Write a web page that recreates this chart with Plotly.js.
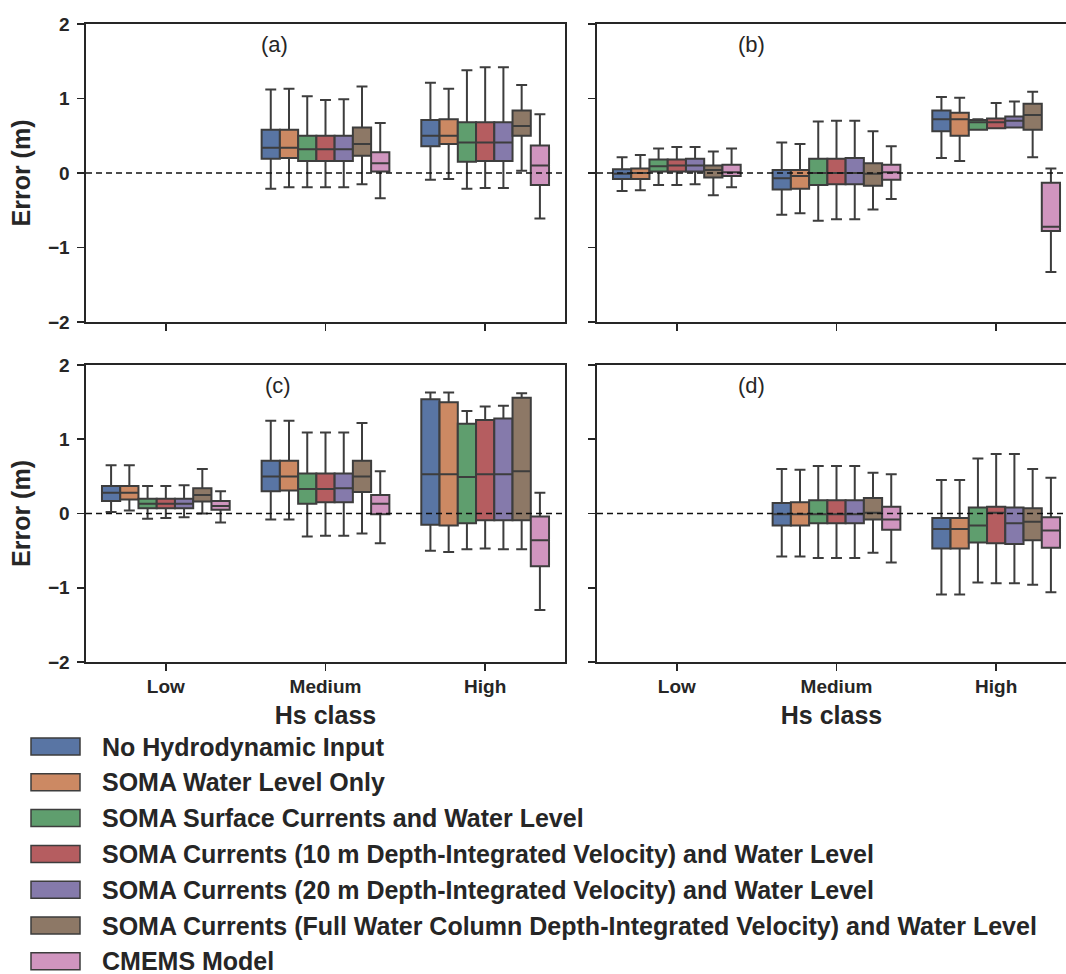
<!DOCTYPE html>
<html>
<head>
<meta charset="utf-8">
<script src="https://cdn.plot.ly/plotly-3.0.1.min.js"></script>
<style>
  html, body { margin: 0; padding: 0; background: #ffffff; overflow: hidden; }
  #chart { width: 1066px; height: 974px; }
</style>
</head>
<body>
<div id="chart"></div>
<script>
// ---------------- DATA ----------------
const categories = ['Low', 'Medium', 'High'];
const seriesNames = [
  'No Hydrodynamic Input',
  'SOMA Water Level Only',
  'SOMA Surface Currents and Water Level',
  'SOMA Currents (10 m Depth-Integrated Velocity) and Water Level',
  'SOMA Currents (20 m Depth-Integrated Velocity) and Water Level',
  'SOMA Currents (Full Water Column Depth-Integrated Velocity) and Water Level',
  'CMEMS Model'
];
const yTicks = [-2, -1, 0, 1, 2];
const panelLabels = ['(a)', '(b)', '(c)', '(d)'];

// Each row = one series; columns = Low, Medium, High (null = no data)
// Panel (a)
const aLower  = [[null,-0.21,-0.09],[null,-0.19,-0.08],[null,-0.19,-0.21],[null,-0.19,-0.20],[null,-0.19,-0.20],[null,-0.15,0.03],[null,-0.34,-0.61]];
const aQ1     = [[null,0.19,0.36],[null,0.20,0.39],[null,0.16,0.15],[null,0.16,0.16],[null,0.16,0.16],[null,0.23,0.50],[null,0.02,-0.16]];
const aMedian = [[null,0.34,0.50],[null,0.34,0.50],[null,0.32,0.41],[null,0.32,0.41],[null,0.32,0.41],[null,0.39,0.63],[null,0.13,0.10]];
const aQ3     = [[null,0.58,0.71],[null,0.58,0.72],[null,0.50,0.68],[null,0.50,0.68],[null,0.50,0.68],[null,0.61,0.84],[null,0.28,0.37]];
const aUpper  = [[null,1.12,1.21],[null,1.13,1.13],[null,1.03,1.38],[null,0.98,1.42],[null,0.99,1.42],[null,1.16,1.18],[null,0.67,0.79]];

// Panel (b)
const bLower  = [[-0.24,-0.56,0.20],[-0.23,-0.54,0.16],[-0.16,-0.64,0.58],[-0.16,-0.62,0.60],[-0.15,-0.62,0.61],[-0.30,-0.49,0.21],[-0.19,-0.35,-1.33]];
const bQ1     = [[-0.08,-0.22,0.56],[-0.08,-0.21,0.50],[0.02,-0.16,0.58],[0.02,-0.15,0.60],[0.02,-0.15,0.61],[-0.06,-0.17,0.58],[-0.04,-0.09,-0.78]];
const bMedian = [[-0.01,-0.07,0.72],[0.00,-0.04,0.72],[0.09,0.00,0.68],[0.10,0.00,0.68],[0.10,0.00,0.70],[0.04,-0.01,0.78],[0.01,0.01,-0.72]];
const bQ3     = [[0.05,0.04,0.84],[0.06,0.04,0.81],[0.18,0.19,0.71],[0.18,0.19,0.73],[0.19,0.20,0.76],[0.10,0.13,0.93],[0.11,0.11,-0.13]];
const bUpper  = [[0.21,0.41,1.02],[0.24,0.39,1.01],[0.33,0.69,0.72],[0.35,0.70,0.94],[0.35,0.70,0.96],[0.29,0.56,1.09],[0.33,0.36,0.06]];

// Panel (c)
const cLower  = [[0.02,-0.08,-0.50],[0.04,-0.08,-0.52],[-0.07,-0.31,-0.48],[-0.06,-0.30,-0.47],[-0.05,-0.30,-0.48],[0.00,-0.27,-0.48],[-0.12,-0.40,-1.30]];
const cQ1     = [[0.17,0.30,-0.15],[0.19,0.31,-0.16],[0.07,0.13,-0.13],[0.07,0.15,-0.09],[0.07,0.15,-0.09],[0.16,0.29,-0.09],[0.05,-0.01,-0.71]];
const cMedian = [[0.28,0.50,0.53],[0.28,0.50,0.53],[0.13,0.33,0.49],[0.13,0.33,0.53],[0.13,0.34,0.53],[0.25,0.50,0.57],[0.10,0.13,-0.36]];
const cQ3     = [[0.37,0.71,1.54],[0.37,0.71,1.50],[0.20,0.54,1.21],[0.20,0.54,1.26],[0.20,0.54,1.28],[0.34,0.71,1.56],[0.17,0.25,-0.04]];
const cUpper  = [[0.65,1.25,1.63],[0.65,1.25,1.63],[0.37,1.09,1.38],[0.37,1.09,1.44],[0.38,1.09,1.45],[0.60,1.22,1.62],[0.30,0.57,0.28]];

// Panel (d)
const dLower  = [[null,-0.58,-1.09],[null,-0.58,-1.09],[null,-0.60,-0.93],[null,-0.60,-0.94],[null,-0.60,-0.94],[null,-0.53,-0.96],[null,-0.66,-1.06]];
const dQ1     = [[null,-0.16,-0.47],[null,-0.16,-0.47],[null,-0.13,-0.39],[null,-0.13,-0.40],[null,-0.13,-0.41],[null,-0.08,-0.36],[null,-0.22,-0.46]];
const dMedian = [[null,-0.01,-0.21],[null,-0.01,-0.21],[null,-0.01,-0.16],[null,-0.01,0.01],[null,-0.01,-0.13],[null,0.01,-0.11],[null,-0.08,-0.23]];
const dQ3     = [[null,0.14,-0.06],[null,0.15,-0.06],[null,0.18,0.08],[null,0.18,0.09],[null,0.18,0.08],[null,0.21,0.07],[null,0.09,-0.05]];
const dUpper  = [[null,0.60,0.45],[null,0.59,0.45],[null,0.64,0.74],[null,0.64,0.80],[null,0.64,0.80],[null,0.55,0.60],[null,0.53,0.48]];

// ---------------- STYLE ----------------
const seriesColors = ['#5975a4', '#cc8963', '#5f9e6e', '#b55d60', '#857aab', '#8d7866', '#d095bf'];
const FONT = 'Liberation Sans, Arial, Helvetica, sans-serif';
const INK = '#262626';
const EDGE = '#3d3d3d';

const W = 1066, H = 974;
const M = { l: 86, r: 0, t: 24, b: 312 };
const PW = W - M.l - M.r, PH = H - M.t - M.b;
const px2x = p => (p - M.l) / PW;          // page pixel -> paper x
const py2y = p => (H - M.b - p) / PH;      // page pixel -> paper y

const panels = [
  { lo: aLower, q1: aQ1, med: aMedian, q3: aQ3, hi: aUpper, xa: 'x',  ya: 'y'  },
  { lo: bLower, q1: bQ1, med: bMedian, q3: bQ3, hi: bUpper, xa: 'x2', ya: 'y2' },
  { lo: cLower, q1: cQ1, med: cMedian, q3: cQ3, hi: cUpper, xa: 'x3', ya: 'y3' },
  { lo: dLower, q1: dQ1, med: dMedian, q3: dQ3, hi: dUpper, xa: 'x4', ya: 'y4' }
];

const traces = [];
panels.forEach(p => {
  for (let s = 0; s < seriesNames.length; s++) {
    const x = [], lo = [], q1 = [], med = [], q3 = [], hi = [];
    for (let c = 0; c < categories.length; c++) {
      if (p.med[s][c] === null) continue;
      x.push(categories[c]);
      lo.push(p.lo[s][c]); q1.push(p.q1[s][c]); med.push(p.med[s][c]);
      q3.push(p.q3[s][c]); hi.push(p.hi[s][c]);
    }
    traces.push({
      type: 'box', name: seriesNames[s], x: x,
      q1: q1, median: med, q3: q3, lowerfence: lo, upperfence: hi,
      xaxis: p.xa, yaxis: p.ya,
      offsetgroup: 'g' + s,
      fillcolor: seriesColors[s],
      line: { color: EDGE, width: 2 },
      whiskerwidth: 0.6, boxpoints: false, showlegend: false,
      hoverinfo: 'skip'
    });
  }
});

const leftDom = [0, 479 / PW];
const rightDom = [511 / PW, 1];
const topDom = [py2y(322), 1];
const botDom = [0, py2y(365)];

function xAxis(dom, anchor, range, labels) {
  return {
    domain: dom, anchor: anchor, type: 'category',
    categoryorder: 'array', categoryarray: categories,
    range: range, showgrid: false, zeroline: false,
    showline: true, mirror: true, linecolor: INK, linewidth: 1.6,
    ticks: 'outside', ticklen: 7, tickwidth: 1.6, tickcolor: INK,
    showticklabels: labels,
    tickfont: { family: FONT, size: 19, color: INK, weight: 'bold' },
    title: labels ? { text: 'Hs class', font: { family: FONT, size: 25, color: INK, weight: 'bold' }, standoff: 10 } : { text: '' }
  };
}
function yAxis(dom, anchor, labels) {
  return {
    domain: dom, anchor: anchor, range: [-2, 2],
    tickmode: 'array', tickvals: yTicks,
    showgrid: false, zeroline: false,
    showline: true, mirror: labels, linecolor: INK, linewidth: 1.6,
    ticks: 'outside', ticklen: 7, tickwidth: 1.6, tickcolor: INK,
    ticklabelstandoff: 4,
    showticklabels: labels,
    tickfont: { family: FONT, size: 19, color: INK, weight: 'bold' },
    title: labels ? { text: 'Error (m)', font: { family: FONT, size: 25, color: INK, weight: 'bold' }, standoff: 10 } : { text: '' }
  };
}

const rightEnd = -0.5 + 469 / (479 / 3);

const shapes = [];
const annotations = [];
[['x', 'y'], ['x2', 'y2'], ['x3', 'y3'], ['x4', 'y4']].forEach(([xa, ya]) => {
  shapes.push({
    type: 'line', xref: xa + ' domain', yref: ya, x0: 0, x1: 1, y0: 0, y1: 0,
    line: { color: '#111111', width: 1.6, dash: '6px,4px' }, layer: 'above'
  });
});

const labelPos = [[0.68, 'x', 'y'], [0.47, 'x2', 'y2'], [0.70, 'x3', 'y3'], [0.47, 'x4', 'y4']];
labelPos.forEach((lp, i) => {
  annotations.push({
    text: panelLabels[i], xref: lp[1], yref: lp[2], x: lp[0], y: 1.73,
    showarrow: false, xanchor: 'center', yanchor: 'middle',
    font: { family: FONT, size: 22, color: INK }
  });
});

// custom legend
seriesNames.forEach((n, i) => {
  const cy = 746.5 + i * 35.8;
  shapes.push({
    type: 'rect', xref: 'paper', yref: 'paper',
    x0: px2x(31), x1: px2x(80), y0: py2y(cy - 8.5), y1: py2y(cy + 8.5),
    fillcolor: seriesColors[i], line: { color: EDGE, width: 1.5 }
  });
  annotations.push({
    text: n, xref: 'paper', yref: 'paper', x: px2x(101), y: py2y(cy),
    xanchor: 'left', yanchor: 'middle', showarrow: false, borderpad: 0,
    font: { family: FONT, size: 25, color: INK, weight: 'bold' }
  });
});

const layout = {
  width: W, height: H,
  margin: M,
  paper_bgcolor: '#ffffff', plot_bgcolor: '#ffffff',
  boxmode: 'group', boxgap: 0.2, boxgroupgap: 0,
  showlegend: false,
  font: { family: FONT, color: INK },
  xaxis: xAxis(leftDom, 'y', [-0.5, 2.5], false),
  xaxis2: xAxis(rightDom, 'y2', [-0.5, rightEnd], false),
  xaxis3: xAxis(leftDom, 'y3', [-0.5, 2.5], true),
  xaxis4: xAxis(rightDom, 'y4', [-0.5, rightEnd], true),
  yaxis: yAxis(topDom, 'x', true),
  yaxis2: yAxis(topDom, 'x2', false),
  yaxis3: yAxis(botDom, 'x3', true),
  yaxis4: yAxis(botDom, 'x4', false),
  shapes: shapes,
  annotations: annotations
};

Plotly.newPlot('chart', traces, layout, { displayModeBar: false, staticPlot: true });
</script>
</body>
</html>
